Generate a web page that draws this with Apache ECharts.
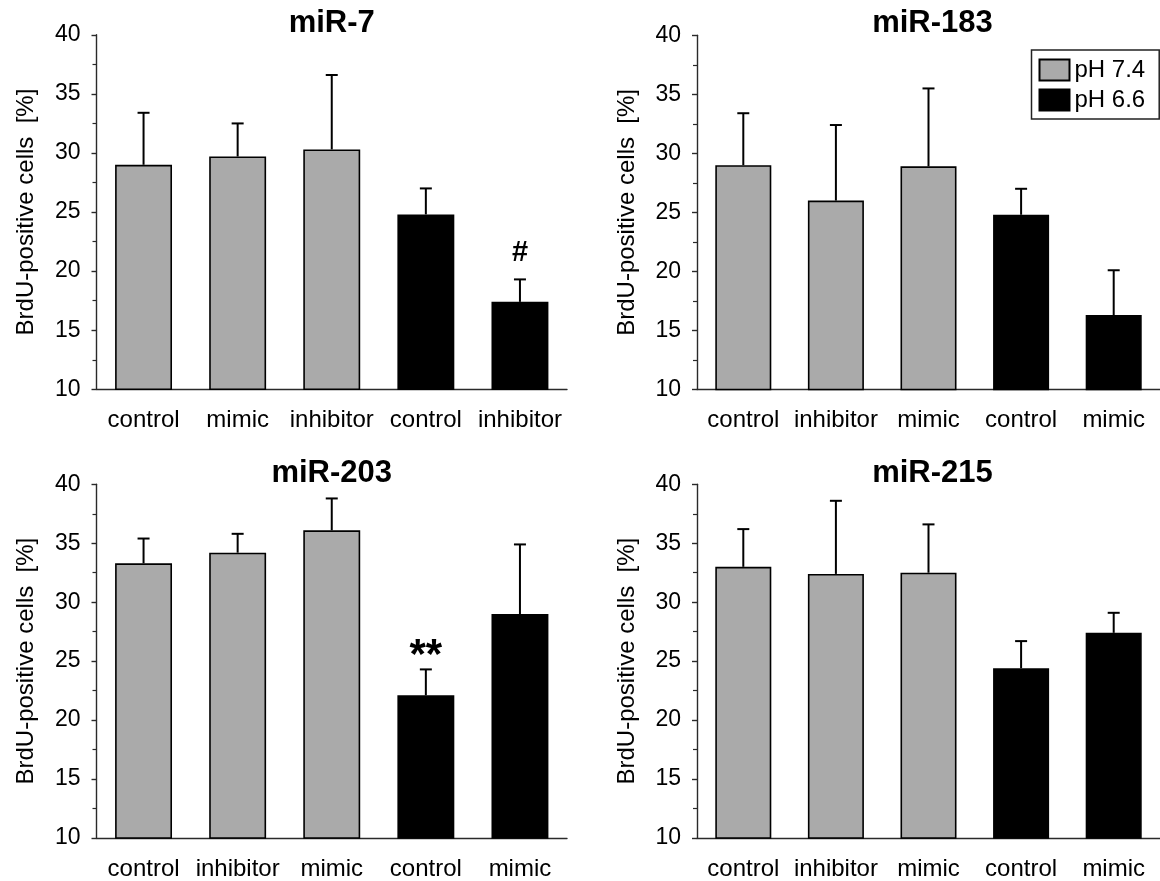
<!DOCTYPE html>
<html>
<head>
<meta charset="utf-8">
<title>BrdU-positive cells</title>
<script src="https://cdn.jsdelivr.net/npm/echarts@6/dist/echarts.min.js"></script>
<style>
  html, body { margin: 0; padding: 0; background: #fff; }
  #chart { width: 1160px; height: 881px; }
</style>
</head>
<body>
<div id="chart"></div>
<script>
// Category labels per panel
const cats7   = ['control', 'mimic', 'inhibitor', 'control', 'inhibitor'];
const cats183 = ['control', 'inhibitor', 'mimic', 'control', 'mimic'];
const cats203 = ['control', 'inhibitor', 'mimic', 'control', 'mimic'];
const cats215 = ['control', 'inhibitor', 'mimic', 'control', 'mimic'];

// Mean BrdU-positive cells [%]; first three at pH 7.4, last two at pH 6.6
const mean7   = [29.0, 29.7, 30.3, 24.8, 17.4];
const mean183 = [29.0, 26.0, 28.9, 24.8, 16.3];
const mean203 = [33.3, 34.2, 36.1, 22.1, 29.0];
const mean215 = [33.0, 32.4, 32.5, 24.4, 27.4];

// Standard deviations (upper error bars)
const sd7   = [4.4, 2.8, 6.3, 2.2, 1.9];
const sd183 = [4.4, 6.4, 6.6, 2.2, 3.8];
const sd203 = [2.1, 1.6, 2.7, 2.2, 5.9];
const sd215 = [3.2, 6.2, 4.1, 2.3, 1.7];

// Significance marks
const sig7   = ['', '', '', '', '#'];
const sig183 = ['', '', '', '', ''];
const sig203 = ['', '', '', '**', ''];
const sig215 = ['', '', '', '', ''];

// Which bars are pH 7.4 (true) or pH 6.6 (false)
const isNeutral = [true, true, true, false, false];

const yTicks = { min: 10, max: 40, step: 5 };
const titles = ['miR-7', 'miR-183', 'miR-203', 'miR-215'];
const legendNames = ['pH 7.4', 'pH 6.6'];

const FONT = '"Liberation Sans", Arial, Helvetica, sans-serif';
const GREY = '#aaaaaa';
const AXIS = '#2a2a2a';

const panels = [
  { cats: cats7,   mean: mean7,   sd: sd7,   sig: sig7 },
  { cats: cats183, mean: mean183, sd: sd183, sig: sig183 },
  { cats: cats203, mean: mean203, sd: sd203, sig: sig203 },
  { cats: cats215, mean: mean215, sd: sd215, sig: sig215 }
];

const grids = [
  { left: 96.5, top: 34.8, width: 470.5, height: 354.5 },
  { left: 697,  top: 35.3, width: 471,   height: 354.2 },
  { left: 96.5, top: 484.3, width: 470.5, height: 353.8 },
  { left: 697,  top: 484.3, width: 471,   height: 354 }
];

const xAxes = [], yAxes = [], series = [], titleOpts = [];

panels.forEach((p, k) => {
  const g = grids[k];
  titleOpts.push({
    text: titles[k],
    left: g.left + g.width / 2,
    top: k < 2 ? 8 : 458,
    textAlign: 'center',
    padding: 0,
    textStyle: { fontFamily: FONT, fontSize: 31, fontWeight: 'bold', color: '#000' }
  });
  xAxes.push({
    type: 'category',
    gridIndex: k,
    data: p.cats,
    axisLine: { onZero: false, lineStyle: { color: AXIS, width: 1.4 } },
    axisTick: { alignWithLabel: true, length: 5, lineStyle: { color: AXIS, width: 1.4 } },
    axisLabel: { fontFamily: FONT, fontSize: 24, color: '#000', margin: 19, interval: 0 },
    splitLine: { show: false }
  });
  yAxes.push({
    type: 'value',
    gridIndex: k,
    min: yTicks.min,
    max: yTicks.max,
    interval: yTicks.step,
    name: 'BrdU-positive cells  [%]',
    nameLocation: 'middle',
    nameGap: 58,
    nameTextStyle: { fontFamily: FONT, fontSize: 24, color: '#000' },
    axisLine: { show: true, lineStyle: { color: AXIS, width: 1.4 } },
    axisTick: { show: true, length: 5, lineStyle: { color: AXIS, width: 1.4 } },
    minorTick: { show: true, splitNumber: 2, length: 4, lineStyle: { color: AXIS, width: 1.2 } },
    axisLabel: { fontFamily: FONT, fontSize: 23, color: '#000', margin: 16 },
    splitLine: { show: false }
  });
  series.push({
    name: legendNames[0],
    type: 'bar',
    xAxisIndex: k, yAxisIndex: k,
    data: p.mean.map((v, i) => isNeutral[i] ? v : null),
    barWidth: '60.5%',
    barGap: '-100%',
    itemStyle: { color: GREY, borderColor: '#000', borderWidth: 1.6 },
    emphasis: { disabled: true },
    z: 2
  });
  series.push({
    name: legendNames[1],
    type: 'bar',
    xAxisIndex: k, yAxisIndex: k,
    data: p.mean.map((v, i) => isNeutral[i] ? null : v),
    barWidth: '60.5%',
    barGap: '-100%',
    itemStyle: { color: '#000', borderColor: '#000', borderWidth: 1.6 },
    emphasis: { disabled: true },
    z: 2
  });
  // Upper error bars with caps, plus significance marks above them
  series.push({
    type: 'custom',
    xAxisIndex: k, yAxisIndex: k,
    data: p.mean.map((v, i) => [i, v, v + p.sd[i]]),
    z: 5,
    silent: true,
    renderItem: (params, api) => {
      const i = api.value(0);
      const base = api.coord([i, api.value(1)]);
      const top = api.coord([i, api.value(2)]);
      const cap = 6;
      const children = [
        { type: 'line', shape: { x1: base[0], y1: base[1], x2: top[0], y2: top[1] },
          style: { stroke: '#000', lineWidth: 2 } },
        { type: 'line', shape: { x1: top[0] - cap, y1: top[1], x2: top[0] + cap, y2: top[1] },
          style: { stroke: '#000', lineWidth: 2 } }
      ];
      const mark = p.sig[params.dataIndex];
      if (mark) {
        const star = mark.indexOf('*') >= 0;
        children.push({
          type: 'text',
          style: {
            text: mark,
            x: top[0],
            y: top[1] - (star ? 13 : 26),
            align: 'center',
            verticalAlign: 'middle',
            font: 'bold ' + (star ? 42 : 29) + 'px ' + FONT,
            fill: '#000'
          }
        });
      }
      return { type: 'group', children };
    }
  });
});

const chart = echarts.init(document.getElementById('chart'));
chart.setOption({
  animation: false,
  backgroundColor: '#fff',
  title: titleOpts,
  legend: {
    data: legendNames,
    orient: 'vertical',
    left: 1031.5,
    top: 50,
    padding: [8, 14, 7, 7],
    itemWidth: 30,
    itemHeight: 21,
    itemGap: 6,
    icon: 'rect',
    borderColor: '#222',
    borderWidth: 1.5,
    selectedMode: false,
    textStyle: { fontFamily: FONT, fontSize: 24, color: '#000' }
  },
  grid: grids,
  xAxis: xAxes,
  yAxis: yAxes,
  series: series
});
</script>
</body>
</html>
